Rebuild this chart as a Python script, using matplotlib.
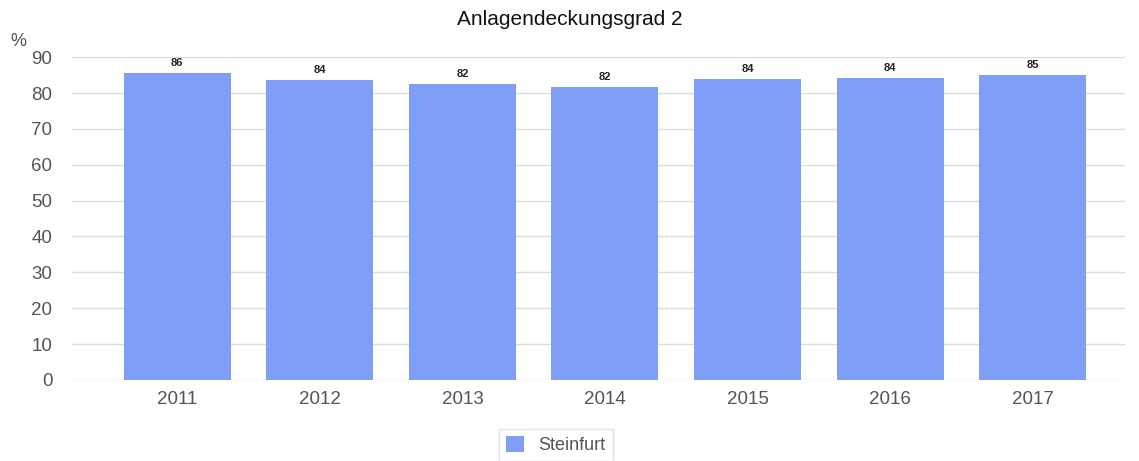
import matplotlib.pyplot as plt
import numpy as np

plt.rcParams['font.family'] = ['Liberation Sans', 'DejaVu Sans']

years = ["2011", "2012", "2013", "2014", "2015", "2016", "2017"]
values = [85.6, 83.6, 82.4, 81.7, 83.8, 84.2, 85.0]
labels = ["86", "84", "82", "82", "84", "84", "85"]

bar_color = "#7f9ef5"
text_color = "#555555"

fig = plt.figure(figsize=(11.39, 4.61), dpi=100)
ax = fig.add_axes([0.063, 0.176, 0.925, 0.7])

x = np.arange(len(years))
bars = ax.bar(x, values, width=0.75, color=bar_color, zorder=2, label="Steinfurt")

for xi, v, lab in zip(x, values, labels):
    ax.text(xi, v + 1.5, lab, ha="center", va="bottom", fontsize=8,
            fontweight="bold", color="#222222")

ax.set_xlim(-0.74, 6.65)
ax.set_ylim(0, 90)
ax.set_yticks(range(0, 91, 10))
ax.set_xticks(x)
ax.set_xticklabels(years)
ax.grid(axis="y", color="#dddddd", linewidth=1, zorder=0)
ax.tick_params(axis="both", length=0, labelsize=13.5, labelcolor=text_color)
ax.tick_params(axis="y", pad=14)
ax.tick_params(axis="x", pad=8)
for s in ax.spines.values():
    s.set_visible(False)

fig.text(0.009, 0.9, "%", fontsize=13, color=text_color)
fig.text(0.5, 0.958, "Anlagendeckungsgrad 2", ha="center", va="center",
         fontsize=15, color="#111111")

fig.legend(handles=[bars], labels=["Steinfurt"], loc="center",
           bbox_to_anchor=(0.488, 0.035), fontsize=13, frameon=True,
           edgecolor="#dddddd", fancybox=False, handlelength=1.0,
           handleheight=1.0, labelcolor=text_color)

fig.savefig("out.png", dpi=100)
